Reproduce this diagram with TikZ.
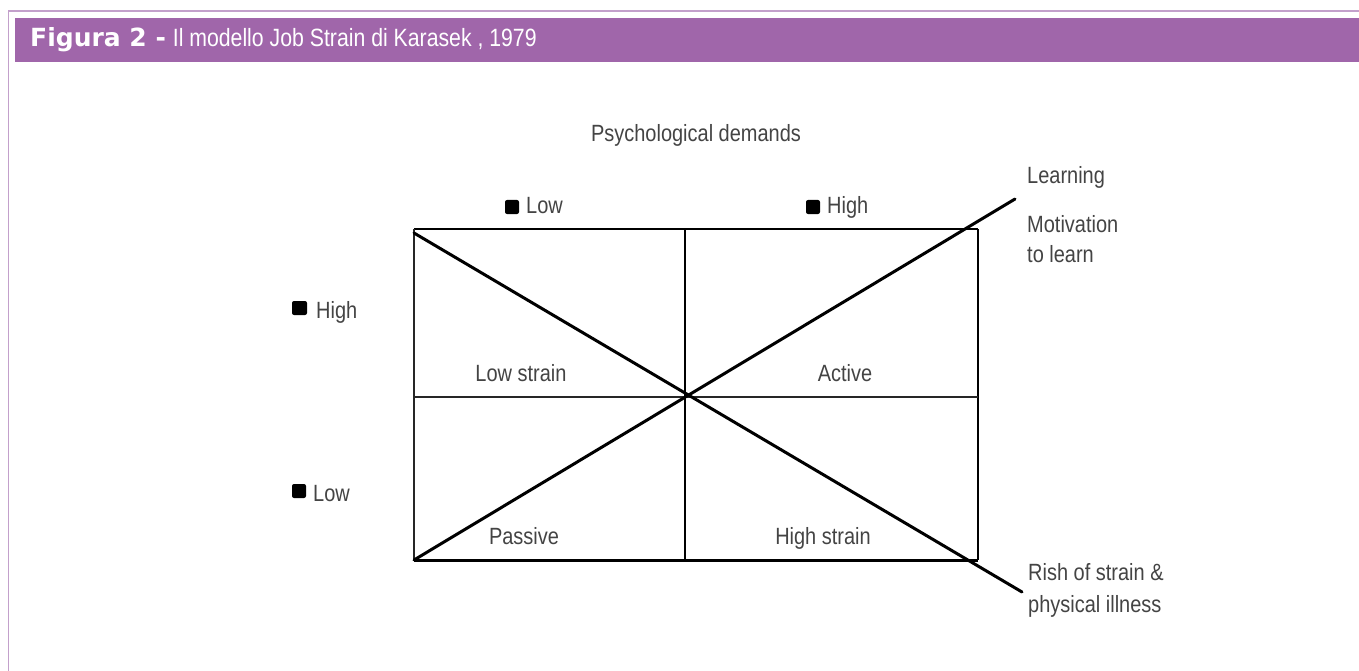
\documentclass[tikz,border=0pt]{standalone}
\usepackage{fontspec}
\setmainfont{Liberation Sans}
\newfontfamily\lblfont[FakeStretch=0.85]{Liberation Sans}
\newfontfamily\hdbold{DejaVu Sans}
\newfontfamily\hdlight[FakeStretch=0.85]{Liberation Sans}
\definecolor{barpurple}{HTML}{A066AA}
\definecolor{framepurple}{HTML}{C3A0CB}
\definecolor{txtgray}{HTML}{444444}
\tikzset{
  lbl/.style={inner sep=0pt, text=txtgray, font=\lblfont\fontsize{23.5}{28}\selectfont},
  lblw/.style={lbl, anchor=base west},
  lblc/.style={lbl, anchor=base},
  bulletsq/.style={fill=black, rounded corners=2pt},
  gridthin/.style={line width=1.3pt, black!85},
  gridthick/.style={line width=2.8pt, black},
  diag/.style={line width=3pt, black, line cap=round}
}
\begin{document}
\begin{tikzpicture}[x=1pt,y=-1pt]
\useasboundingbox (0,0) rectangle (1359,671);
\fill[white] (0,0) rectangle (1359,671);
% frame and header
\draw[framepurple, line width=1.6pt] (8.5,671) -- (8.5,11) -- (1359,11);
\fill[barpurple] (15,18) rectangle (1359,62);
\node[anchor=base west, inner sep=0pt, text=white, font=\fontsize{25}{30}\selectfont] (title) at (30,47)
  {{\hdbold\bfseries Figura 2 -} {\hdlight Il modello Job Strain di Karasek , 1979}};
% grid coordinates
\coordinate (TL) at (414,229);
\coordinate (TR) at (978,229);
\coordinate (BL) at (414,560);
\coordinate (BR) at (978,560);
\coordinate (ML) at (414,397);
\coordinate (MR) at (978,397);
\coordinate (MT) at (685,229);
\coordinate (MB) at (685,560);
\coordinate (D1s) at (414,233);
\coordinate (D1e) at (1022,592);
\coordinate (D2s) at (414,560);
\coordinate (D2e) at (1015,199);
% grid
\draw[line width=2pt] (TL) -- (TR);
\draw[line width=3pt] (BL) -- (BR);
\draw[line width=2pt, black!85] (TL) -- (BL);
\draw[gridthick] (TR) -- (BR);
\draw[gridthick] (MT) -- (MB);
\draw[gridthin] (ML) -- (MR);
\draw[diag] (D1s) -- (D1e);
\draw[diag] (D2s) -- (D2e);
% labels
\node[lblc] (psy) at (696,142) {Psychological demands};
\fill[bulletsq] (505,200) rectangle (519,214);
\node[lblw] (tlow) at (526,214) {Low};
\fill[bulletsq] (806,200) rectangle (820,214);
\node[lblw] (thigh) at (827,214) {High};
\fill[bulletsq] (292,301) rectangle (307,315);
\node[lblw] (lhigh) at (316,318) {High};
\fill[bulletsq] (292,484) rectangle (306,498);
\node[lblw] (llow) at (313,501) {Low};
\node[lblc] (lowstrain) at (521,381) {Low strain};
\node[lblc] (active) at (845,381) {Active};
\node[lblc] (passive) at (524,544) {Passive};
\node[lblc] (highstrain) at (823,544) {High strain};
\node[lblw] (learning) at (1027,183) {Learning};
\node[lblw] (motiv) at (1027,232) {Motivation};
\node[lblw] (tolearn) at (1027,262) {to learn};
\node[lblw] (risk) at (1028,580) {Rish of strain \&};
\node[lblw] (illness) at (1028,612) {physical illness};
\end{tikzpicture}
\end{document}
